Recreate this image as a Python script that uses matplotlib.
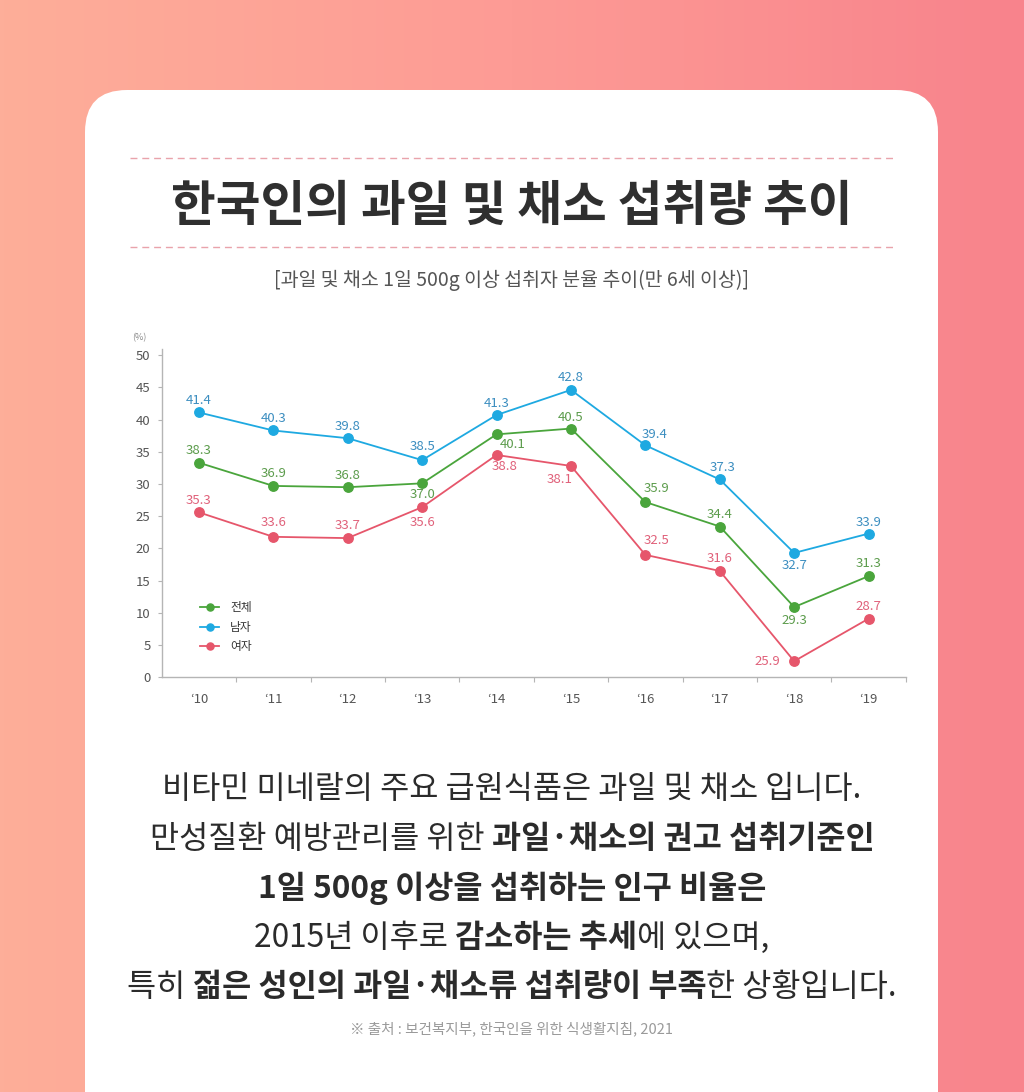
import matplotlib
matplotlib.use('Agg')
import matplotlib.pyplot as plt
import numpy as np
from matplotlib.patches import FancyBboxPatch
from matplotlib.colors import LinearSegmentedColormap

plt.rcParams['font.family'] = ['Noto Sans CJK KR', 'DejaVu Sans']

# ---------------- data ----------------
years = ['‘10', '‘11', '‘12', '‘13', '‘14', '‘15', '‘16', '‘17', '‘18', '‘19']
series_names = ['전체', '남자', '여자']
# plotted heights as drawn on the chart's axis
total_pos = [33.3, 29.7, 29.5, 30.1, 37.7, 38.6, 27.2, 23.4, 10.9, 15.7]
male_pos = [41.1, 38.3, 37.1, 33.7, 40.7, 44.6, 36.0, 30.7, 19.3, 22.3]
female_pos = [25.6, 21.8, 21.6, 26.4, 34.5, 32.8, 19.0, 16.5, 2.5, 9.1]
# value labels printed next to the points
total_labels = [38.3, 36.9, 36.8, 37.0, 40.1, 40.5, 35.9, 34.4, 29.3, 31.3]
male_labels = [41.4, 40.3, 39.8, 38.5, 41.3, 42.8, 39.4, 37.3, 32.7, 33.9]
female_labels = [35.3, 33.6, 33.7, 35.6, 38.8, 38.1, 32.5, 31.6, 25.9, 28.7]
y_ticks = [0, 5, 10, 15, 20, 25, 30, 35, 40, 45, 50]

# label offsets (pixels)
total_off = [(0, 12), (0, 12), (0, 12), (0, -11), (16, -10), (0, 11), (11, 14), (0, 12), (0, -13), (0, 13)]
male_off = [(0, 12), (0, 12), (0, 12), (0, 14), (0, 12), (0, 12), (9, 11), (3, 12), (0, -13), (0, 11)]
female_off = [(0, 12), (0, 14), (0, 13), (0, -15), (8, -12), (-11, -14), (11, 14), (0, 12), (-22, 0), (0, 12)]

W, H = 1024, 1092
fig = plt.figure(figsize=(W / 100, H / 100), dpi=100)

# ---------------- background ----------------
bg = fig.add_axes([0, 0, 1, 1])
bg.set_xlim(0, W)
bg.set_ylim(H, 0)
bg.axis('off')
cmap = LinearSegmentedColormap.from_list('g', ['#fdae99', '#fd9b95', '#f8838c'])
grad = np.linspace(0, 1, 256).reshape(1, -1)
bg.imshow(grad, cmap=cmap, extent=[0, W, H, 0], aspect='auto', zorder=0)
card = FancyBboxPatch((85, 90), 853, 1150, boxstyle='round,pad=0,rounding_size=42',
                      facecolor='white', edgecolor='none', zorder=1)
bg.add_patch(card)

for yy in (158, 247):
    bg.plot([130, 893], [yy, yy], color='#e9a3ab', lw=1.0, ls=(0, (5, 3.5)), zorder=2)

bg.text(512, 206, '한국인의 과일 및 채소 섭취량 추이', ha='center', va='center',
        fontsize=35, fontweight='bold', color='#2f2f2f', zorder=3)
bg.text(512, 280, '[과일 및 채소 1일 500g 이상 섭취자 분율 추이(만 6세 이상)]', ha='center',
        va='center', fontsize=14, color='#555555', zorder=3)

renderer = fig.canvas.get_renderer()


def rich_line(y, segments, size, cx=512, color='#2b2b2b'):
    texts = []
    for s, bold in segments:
        t = bg.text(0, y, s, fontsize=size, fontweight='bold' if bold else 'normal',
                    ha='left', va='center', color=color, zorder=3)
        texts.append(t)
    widths = [t.get_window_extent(renderer).width for t in texts]
    x = cx - sum(widths) / 2
    for t, w in zip(texts, widths):
        t.set_x(x)
        x += w


body_size = 22.8
rich_line(789, [('비타민 미네랄의 주요 급원식품은 과일 및 채소 입니다.', False)], body_size)
rich_line(839, [('만성질환 예방관리를 위한 ', False), ('과일·채소의 권고 섭취기준인', True)], body_size)
rich_line(888, [('1일 500g 이상을 섭취하는 인구 비율은', True)], body_size)
rich_line(938, [('2015년 이후로 ', False), ('감소하는 추세', True), ('에 있으며,', False)], body_size)
rich_line(987, [('특히 ', False), ('젊은 성인의 과일·채소류 섭취량이 부족', True), ('한 상황입니다.', False)], body_size)
bg.text(512, 1029, '※ 출처 : 보건복지부, 한국인을 위한 식생활지침, 2021', ha='center', va='center',
        fontsize=10.5, color='#9a9a9a', zorder=3)

# ---------------- chart ----------------
ax_left, ax_right = 161.7, 905.8
ax_top, ax_bot = 349.3, 677.3
ax = fig.add_axes([ax_left / W, 1 - ax_bot / H, (ax_right - ax_left) / W, (ax_bot - ax_top) / H])
ax.set_facecolor('none')
ax.set_xlim(-0.5, len(years) - 0.5)
ax.set_ylim(0, 50.9)

x = np.arange(len(years))
colors = ['#4aa53c', '#1ea9e1', '#e6566b']
label_colors = ['#5c9c4c', '#3c8ec0', '#e0617a']
pos_list = [total_pos, male_pos, female_pos]
lab_list = [total_labels, male_labels, female_labels]
off_list = [total_off, male_off, female_off]

handles = []
for name, c, lc, ys, labs, offs in zip(series_names, colors, label_colors, pos_list, lab_list, off_list):
    h, = ax.plot(x, ys, color=c, lw=1.3, marker='o', markersize=6.8, label=name, zorder=3,
                 clip_on=False)
    handles.append(h)
    for xi, yi, lab, (dx, dy) in zip(x, ys, labs, offs):
        ha = 'center'
        if dx < -15:
            ha = 'right'
            dx = dx + 8
        ax.annotate(f'{lab:.1f}', (xi, yi), xytext=(dx, dy), textcoords='offset pixels',
                    ha=ha, va='center', fontsize=9.5, color=lc, zorder=4)

for s in ['top', 'right']:
    ax.spines[s].set_visible(False)
for s in ['left', 'bottom']:
    ax.spines[s].set_color('#b5b5b5')
    ax.spines[s].set_linewidth(1.0)

ax.set_yticks(y_ticks)
ax.set_yticklabels([str(v) for v in y_ticks])
ax.tick_params(axis='y', direction='out', length=3, width=0.8, color='#b5b5b5',
               labelsize=9.5, labelcolor='#555555', pad=5)
ax.set_xticks(x)
ax.set_xticklabels(years)
ax.tick_params(axis='x', which='major', length=0, labelsize=9.5, labelcolor='#555555', pad=11)
ax.set_xticks(np.arange(0.5, len(years), 1), minor=True)
ax.tick_params(axis='x', which='minor', direction='out', length=3.5, width=0.8, color='#b5b5b5')

ax.text(-0.03, 1.035, '(%)', transform=ax.transAxes, ha='center', va='center',
        fontsize=6.5, color='#888888')

leg = ax.legend(handles=handles, loc='upper left', bbox_to_anchor=(0.052, 0.232),
                frameon=False, fontsize=8.5, handlelength=1.6, handletextpad=0.9,
                labelspacing=0.55, borderpad=0, borderaxespad=0, markerscale=0.75)
for t in leg.get_texts():
    t.set_color('#333333')
    t.set_fontweight('medium')

fig.savefig('out.png', dpi=100)
